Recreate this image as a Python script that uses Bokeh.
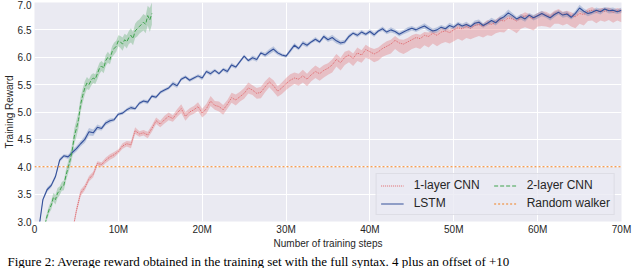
import numpy as np
from bokeh.plotting import figure
from bokeh.models import Range1d, FixedTicker, Legend, LegendItem, Title
from bokeh.embed import file_html
from bokeh.resources import INLINE

# ---------------- data ----------------
MILLION = 1e6
steps_max_m = 70.0
random_walker = 4.0

x_ticks_m = [0, 10, 20, 30, 40, 50, 60, 70]
x_tick_labels = ["0", "10M", "20M", "30M", "40M", "50M", "60M", "70M"]
y_ticks = [3.0, 3.5, 4.0, 4.5, 5.0, 5.5, 6.0, 6.5, 7.0]

# LSTM: sampled every 0.5M steps starting at 0.5M
lstm_start_m, lstm_step_m = 0.5, 0.5
lstm_mean = [
    2.85, 3.40, 3.58, 3.66, 3.82, 4.12, 4.20, 4.18, 4.26, 4.33,
    4.42, 4.50, 4.64, 4.62, 4.72, 4.70, 4.80, 4.84, 4.86, 4.96,
    4.98, 5.04, 5.08, 5.06, 5.16, 5.20, 5.18, 5.29, 5.27, 5.36,
    5.40, 5.44, 5.52, 5.48, 5.60, 5.64, 5.58, 5.62, 5.66, 5.62,
    5.74, 5.70, 5.76, 5.70, 5.78, 5.74, 5.86, 5.82, 5.92, 6.02,
    5.94, 5.99, 5.96, 6.08, 6.04, 6.10, 6.15, 6.08, 6.04, 6.02,
    6.12, 6.22, 6.16, 6.26, 6.22, 6.28, 6.33, 6.28, 6.38, 6.32,
    6.36, 6.30, 6.26, 6.28, 6.38, 6.44, 6.40, 6.46, 6.42, 6.47,
    6.41, 6.48, 6.52, 6.46, 6.50, 6.47, 6.42, 6.46, 6.50, 6.53,
    6.50, 6.54, 6.57, 6.52, 6.48, 6.50, 6.55, 6.52, 6.58, 6.55,
    6.61, 6.57, 6.60, 6.56, 6.62, 6.64, 6.58, 6.62, 6.67, 6.63,
    6.70, 6.74, 6.81, 6.76, 6.70, 6.74, 6.70, 6.77, 6.72, 6.76,
    6.80, 6.76, 6.72, 6.78, 6.82, 6.77, 6.79, 6.73, 6.80, 6.90,
    6.84, 6.80, 6.82, 6.86, 6.83, 6.88, 6.85, 6.86, 6.83, 6.86,
]
lstm_band = [
    0.03, 0.03, 0.04, 0.04, 0.04, 0.04, 0.03, 0.04, 0.05, 0.05,
    0.05, 0.06, 0.07, 0.06, 0.05, 0.04, 0.04, 0.04, 0.03, 0.03,
    0.03, 0.03, 0.04, 0.03, 0.03, 0.03, 0.04, 0.03, 0.03, 0.03,
    0.03, 0.03, 0.04, 0.04, 0.03, 0.03, 0.03, 0.03, 0.03, 0.04,
    0.03, 0.04, 0.03, 0.03, 0.03, 0.04, 0.04, 0.03, 0.03, 0.03,
    0.03, 0.04, 0.04, 0.03, 0.04, 0.05, 0.05, 0.04, 0.03, 0.03,
    0.04, 0.04, 0.03, 0.04, 0.04, 0.03, 0.04, 0.03, 0.04, 0.04,
    0.05, 0.05, 0.04, 0.04, 0.04, 0.03, 0.04, 0.04, 0.03, 0.04,
    0.04, 0.03, 0.04, 0.04, 0.05, 0.04, 0.04, 0.04, 0.05, 0.04,
    0.04, 0.04, 0.05, 0.05, 0.04, 0.05, 0.04, 0.04, 0.05, 0.04,
    0.04, 0.04, 0.05, 0.04, 0.05, 0.05, 0.04, 0.04, 0.05, 0.05,
    0.05, 0.05, 0.06, 0.05, 0.04, 0.05, 0.05, 0.04, 0.05, 0.05,
    0.05, 0.04, 0.05, 0.05, 0.04, 0.05, 0.05, 0.04, 0.05, 0.06,
    0.05, 0.05, 0.04, 0.05, 0.05, 0.04, 0.05, 0.05, 0.04, 0.05,
]

# 1-layer CNN: sampled every 0.5M steps starting at 4.5M
cnn1_start_m, cnn1_step_m = 4.5, 0.5
cnn1_mean = [
    2.80, 3.20, 3.52, 3.62, 3.78, 3.86, 4.06, 4.04, 4.12, 4.18,
    4.22, 4.28, 4.38, 4.42, 4.40, 4.66, 4.60, 4.62, 4.58, 4.70,
    4.84, 4.78, 4.86, 4.92, 4.88, 4.98, 5.06, 4.92, 5.00, 5.04,
    5.10, 4.98, 5.06, 5.20, 5.12, 5.10, 5.04, 5.14, 5.26, 5.22,
    5.28, 5.34, 5.44, 5.40, 5.34, 5.36, 5.46, 5.55, 5.48, 5.38,
    5.44, 5.52, 5.58, 5.62, 5.60, 5.66, 5.60, 5.68, 5.74, 5.70,
    5.76, 5.80, 5.86, 5.96, 5.90, 6.00, 6.04, 5.98, 6.08, 6.04,
    6.14, 6.10, 6.06, 6.10, 6.16, 6.20, 6.24, 6.31, 6.26, 6.24,
    6.28, 6.32, 6.36, 6.34, 6.40, 6.38, 6.44, 6.40, 6.46, 6.48,
    6.45, 6.50, 6.54, 6.52, 6.56, 6.53, 6.58, 6.60, 6.56, 6.62,
    6.60, 6.64, 6.68, 6.66, 6.72, 6.70, 6.66, 6.72, 6.76, 6.74,
    6.70, 6.76, 6.79, 6.77, 6.74, 6.80, 6.82, 6.78, 6.80, 6.76,
    6.74, 6.80, 6.78, 6.84, 6.86, 6.82, 6.85, 6.84, 6.86, 6.82,
    6.85, 6.83,
]
cnn1_band_low = [
    0.05, 0.06, 0.06, 0.05, 0.05, 0.05, 0.04, 0.04, 0.05, 0.05,
    0.05, 0.04, 0.05, 0.05, 0.06, 0.06, 0.05, 0.05, 0.06, 0.06,
    0.06, 0.06, 0.07, 0.07, 0.06, 0.07, 0.08, 0.08, 0.07, 0.07,
    0.08, 0.08, 0.09, 0.09, 0.08, 0.09, 0.09, 0.08, 0.09, 0.10,
    0.09, 0.10, 0.10, 0.09, 0.10, 0.11, 0.10, 0.10, 0.11, 0.10,
    0.11, 0.12, 0.12, 0.11, 0.12, 0.12, 0.13, 0.12, 0.12, 0.13,
    0.13, 0.12, 0.14, 0.13, 0.14, 0.14, 0.13, 0.14, 0.15, 0.14,
    0.15, 0.14, 0.15, 0.16, 0.15, 0.16, 0.17, 0.16, 0.17, 0.18,
    0.18, 0.17, 0.18, 0.19, 0.18, 0.20, 0.19, 0.20, 0.21, 0.20,
    0.20, 0.21, 0.20, 0.22, 0.21, 0.20, 0.22, 0.21, 0.20, 0.22,
    0.21, 0.20, 0.22, 0.21, 0.20, 0.21, 0.22, 0.20, 0.21, 0.22,
    0.21, 0.20, 0.22, 0.21, 0.20, 0.19, 0.21, 0.20, 0.19, 0.20,
    0.21, 0.19, 0.20, 0.18, 0.19, 0.20, 0.18, 0.19, 0.18, 0.19,
    0.18, 0.19,
]
cnn1_band_high = [
    0.05, 0.06, 0.06, 0.05, 0.05, 0.05, 0.04, 0.04, 0.05, 0.05,
    0.05, 0.04, 0.05, 0.05, 0.06, 0.06, 0.05, 0.05, 0.06, 0.06,
    0.06, 0.06, 0.07, 0.07, 0.06, 0.07, 0.08, 0.08, 0.07, 0.07,
    0.08, 0.08, 0.09, 0.09, 0.08, 0.09, 0.09, 0.08, 0.09, 0.10,
    0.09, 0.10, 0.10, 0.09, 0.10, 0.10, 0.10, 0.09, 0.10, 0.09,
    0.10, 0.10, 0.11, 0.10, 0.10, 0.11, 0.10, 0.10, 0.11, 0.10,
    0.10, 0.09, 0.10, 0.10, 0.09, 0.10, 0.09, 0.09, 0.10, 0.09,
    0.09, 0.08, 0.09, 0.08, 0.08, 0.09, 0.08, 0.08, 0.07, 0.08,
    0.07, 0.08, 0.07, 0.07, 0.06, 0.07, 0.07, 0.06, 0.07, 0.06,
    0.06, 0.06, 0.07, 0.06, 0.06, 0.05, 0.06, 0.06, 0.05, 0.06,
    0.06, 0.05, 0.06, 0.06, 0.05, 0.06, 0.05, 0.06, 0.06, 0.05,
    0.06, 0.05, 0.05, 0.06, 0.05, 0.05, 0.06, 0.05, 0.05, 0.06,
    0.05, 0.06, 0.05, 0.05, 0.06, 0.05, 0.05, 0.06, 0.05, 0.05,
    0.05, 0.05,
]

# 2-layer CNN: sampled every 0.25M steps starting at 1.25M
cnn2_start_m, cnn2_step_m = 1.25, 0.25
cnn2_mean = [
    2.95, 3.10, 3.22, 3.30, 3.44, 3.40, 3.52, 3.56, 3.64, 3.66,
    3.84, 3.98, 4.12, 4.30, 4.56, 4.70, 4.86, 5.14, 5.30, 5.44,
    5.53, 5.50, 5.58, 5.62, 5.60, 5.70, 5.80, 5.84, 5.80, 5.94,
    6.00, 5.96, 6.10, 6.16, 6.20, 6.30, 6.28, 6.24, 6.32, 6.28,
    6.36, 6.40, 6.34, 6.48, 6.52, 6.56, 6.60, 6.64, 6.60, 6.76,
    6.68, 6.80,
]
cnn2_band = [
    0.06, 0.07, 0.07, 0.08, 0.08, 0.09, 0.09, 0.08, 0.08, 0.09,
    0.10, 0.11, 0.12, 0.13, 0.14, 0.15, 0.15, 0.14, 0.13, 0.12,
    0.11, 0.10, 0.10, 0.09, 0.09, 0.10, 0.10, 0.09, 0.09, 0.10,
    0.10, 0.09, 0.10, 0.11, 0.10, 0.10, 0.11, 0.12, 0.11, 0.12,
    0.12, 0.13, 0.12, 0.13, 0.14, 0.13, 0.14, 0.15, 0.16, 0.18,
    0.22, 0.20,
]

caption = ("Figure 2: Average reward obtained in the training set with the full "
           "syntax. 4 plus an offset of +10")


def steps(start_m, step_m, n):
    return (start_m + step_m * np.arange(n)) * MILLION


# ---------------- figure ----------------
BG = "#EAEAF2"
TXT = "#262626"
FONT = "Liberation Sans"

p = figure(width=632, height=268, output_backend="svg", toolbar_location=None,
           x_range=Range1d(0, steps_max_m * MILLION), y_range=Range1d(y_ticks[0], y_ticks[-1]),
           min_border_left=20, min_border_right=11, min_border_top=2, min_border_bottom=20)
p.background_fill_color = BG
p.border_fill_color = "white"
p.outline_line_color = None

p.grid.grid_line_color = "white"
p.grid.grid_line_width = 1

p.xaxis.ticker = FixedTicker(ticks=[t * MILLION for t in x_ticks_m])
p.xaxis.major_label_overrides = {t * MILLION: lab for t, lab in zip(x_ticks_m, x_tick_labels)}
p.yaxis.ticker = FixedTicker(ticks=y_ticks)
p.yaxis.major_label_overrides = {t: f"{t:.1f}" for t in y_ticks}
p.xaxis.axis_label = "Number of training steps"
p.yaxis.axis_label = "Training Reward"
for ax in (p.xaxis, p.yaxis):
    ax.axis_line_color = None
    ax.major_tick_line_color = None
    ax.minor_tick_line_color = None
    ax.major_tick_out = 0
    ax.major_tick_in = 0
    ax.minor_tick_out = 0
    ax.minor_tick_in = 0
    ax.major_label_text_font = FONT
    ax.major_label_text_font_size = "10px"
    ax.major_label_text_color = TXT
    ax.axis_label_text_font = FONT
    ax.axis_label_text_font_size = "10px"
    ax.axis_label_text_font_style = "normal"
    ax.axis_label_text_color = TXT
p.xaxis.major_label_standoff = 2
p.xaxis.axis_label_standoff = 0
p.yaxis.major_label_standoff = 3
p.yaxis.axis_label_standoff = 0

# bands
xl = steps(lstm_start_m, lstm_step_m, len(lstm_mean))
yl = np.array(lstm_mean); bl = np.array(lstm_band)
x1 = steps(cnn1_start_m, cnn1_step_m, len(cnn1_mean))
y1 = np.array(cnn1_mean)
x2 = steps(cnn2_start_m, cnn2_step_m, len(cnn2_mean))
y2 = np.array(cnn2_mean); b2 = np.array(cnn2_band)

p.varea(x=x1, y1=y1 - np.array(cnn1_band_low), y2=y1 + np.array(cnn1_band_high),
        fill_color="#E06468", fill_alpha=0.32)
p.varea(x=xl, y1=yl - bl, y2=yl + bl, fill_color="#4C72B0", fill_alpha=0.3)
p.varea(x=x2, y1=y2 - b2, y2=y2 + b2, fill_color="#55A868", fill_alpha=0.35)

r_cnn1 = p.line(x1, y1, line_color="#E0676B", line_width=1.0, line_dash="1 1")
r_lstm = p.line(xl, yl, line_color="#34509A", line_width=1.1)
r_cnn2 = p.line(x2, y2, line_color="#3FA34D", line_width=1.0, line_dash="4 2")
r_rw = p.line([0, steps_max_m * MILLION], [random_walker, random_walker],
              line_color="#F2801E", line_width=1.2, line_dash="2 2")

# Bokeh fills legend columns first: column 1 = 1-layer CNN, LSTM; column 2 = 2-layer CNN, Random walker
legend = Legend(items=[
    LegendItem(label="1-layer CNN", renderers=[r_cnn1]),
    LegendItem(label="LSTM", renderers=[r_lstm]),
    LegendItem(label="2-layer CNN", renderers=[r_cnn2]),
    LegendItem(label="Random walker", renderers=[r_rw]),
], ncols=2)
legend.location = "bottom_right"
legend.margin = 6
legend.padding = 4
legend.spacing = 4
legend.glyph_width = 23
legend.glyph_height = 13
legend.label_height = 13
legend.label_width = 76
legend.label_standoff = 10
legend.label_text_font = FONT
legend.label_text_font_size = "12px"
legend.label_text_color = TXT
legend.background_fill_color = BG
legend.background_fill_alpha = 0.8
legend.border_line_color = "#D0D0D8"
legend.border_line_width = 1
p.add_layout(legend)

p.add_layout(Title(text=caption, align="left", offset=-27, standoff=0,
                   text_font="Liberation Serif", text_font_size="13px",
                   text_font_style="normal", text_color="black"), "below")

open("out.html", "w").write(file_html(p, INLINE))
